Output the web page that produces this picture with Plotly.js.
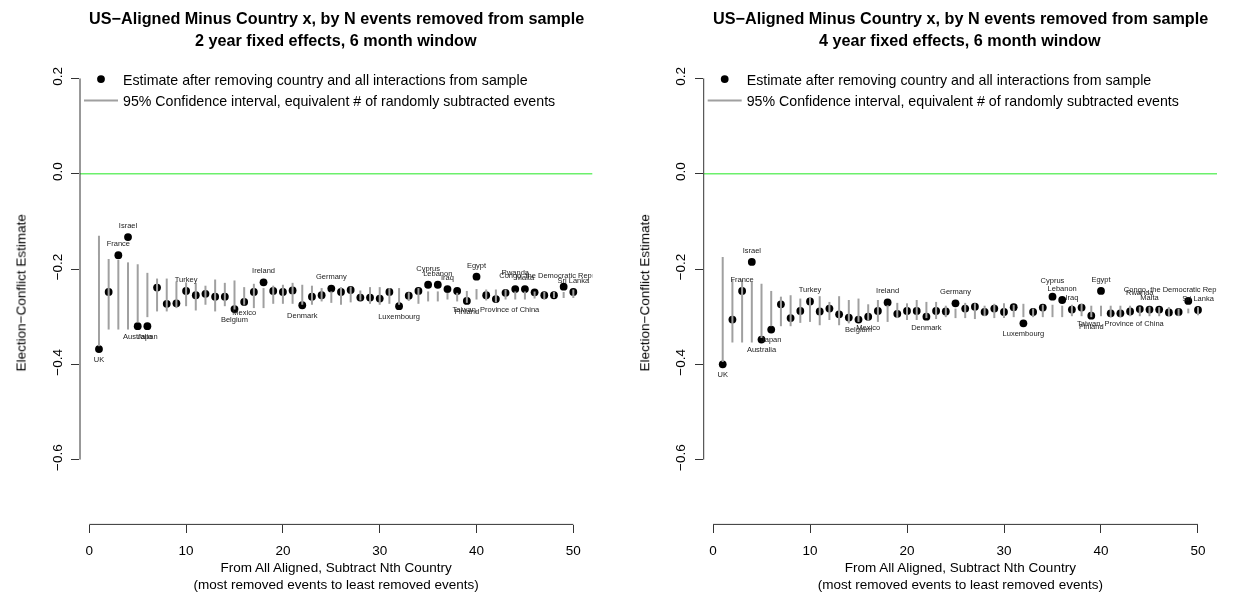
<!DOCTYPE html>
<html>
<head>
<meta charset="utf-8">
<script src="https://cdn.plot.ly/plotly-3.0.1.min.js"></script>
<style>
html,body{margin:0;padding:0;background:#fff;}
#chart{width:1233px;height:597px;}
#chart g.textpoint,
#chart g.infolayer,
#chart g.xaxislayer-above,
#chart g.yaxislayer-above,
#chart g.annotation{filter:grayscale(1);}
</style>
</head>
<body>
<div id="chart"></div>
<script>
// ---------- data ----------
const nIndex = [1,2,3,4,5,6,7,8,9,10,11,12,13,14,15,16,17,18,19,20,21,22,23,24,25,
  26,27,28,29,30,31,32,33,34,35,36,37,38,39,40,41,42,43,44,45,46,47,48,49,50];

// 2 year fixed effects, 6 month window
const est2 = [-0.368,-0.248,-0.171,-0.133,-0.320,-0.320,-0.239,-0.273,-0.272,-0.246,
  -0.255,-0.252,-0.258,-0.258,-0.284,-0.269,-0.248,-0.228,-0.246,-0.248,
  -0.245,-0.276,-0.258,-0.255,-0.241,-0.248,-0.244,-0.260,-0.260,-0.262,
  -0.248,-0.278,-0.256,-0.246,-0.233,-0.233,-0.242,-0.246,-0.267,-0.216,
  -0.255,-0.263,-0.250,-0.242,-0.242,-0.249,-0.255,-0.255,-0.237,-0.248];
const lo2 = [-0.362,-0.327,-0.327,-0.327,-0.312,-0.301,-0.289,-0.289,-0.282,-0.278,
  -0.287,-0.275,-0.289,-0.278,-0.285,-0.275,-0.282,-0.282,-0.273,-0.273,
  -0.273,-0.275,-0.275,-0.268,-0.271,-0.275,-0.270,-0.266,-0.273,-0.275,
  -0.273,-0.275,-0.267,-0.273,-0.268,-0.268,-0.264,-0.268,-0.271,-0.264,
  -0.266,-0.270,-0.264,-0.264,-0.264,-0.262,-0.264,-0.261,-0.261,-0.261];
const hi2 = [-0.130,-0.179,-0.180,-0.186,-0.190,-0.208,-0.220,-0.220,-0.226,-0.228,
  -0.229,-0.235,-0.222,-0.229,-0.224,-0.238,-0.231,-0.240,-0.235,-0.233,
  -0.229,-0.233,-0.235,-0.240,-0.247,-0.238,-0.237,-0.245,-0.238,-0.238,
  -0.240,-0.240,-0.249,-0.240,-0.247,-0.247,-0.250,-0.250,-0.246,-0.242,
  -0.243,-0.243,-0.243,-0.247,-0.247,-0.247,-0.248,-0.248,-0.248,-0.243];

// 4 year fixed effects, 6 month window
const est4 = [-0.400,-0.306,-0.246,-0.185,-0.348,-0.327,-0.274,-0.303,-0.288,-0.268,
  -0.289,-0.283,-0.295,-0.302,-0.306,-0.300,-0.288,-0.270,-0.294,-0.288,
  -0.288,-0.300,-0.288,-0.289,-0.272,-0.283,-0.279,-0.290,-0.283,-0.290,
  -0.280,-0.314,-0.290,-0.281,-0.258,-0.265,-0.285,-0.281,-0.298,-0.246,
  -0.293,-0.293,-0.289,-0.284,-0.285,-0.285,-0.291,-0.290,-0.267,-0.286];
const lo4 = [-0.395,-0.354,-0.354,-0.354,-0.345,-0.320,-0.320,-0.320,-0.313,-0.311,
  -0.318,-0.307,-0.318,-0.314,-0.311,-0.307,-0.311,-0.311,-0.303,-0.307,
  -0.307,-0.303,-0.305,-0.301,-0.303,-0.303,-0.305,-0.299,-0.303,-0.303,
  -0.301,-0.301,-0.301,-0.301,-0.301,-0.301,-0.299,-0.299,-0.301,-0.299,
  -0.301,-0.301,-0.299,-0.299,-0.299,-0.299,-0.299,-0.299,-0.293,-0.297];
const hi4 = [-0.175,-0.222,-0.222,-0.227,-0.231,-0.246,-0.258,-0.255,-0.262,-0.259,
  -0.257,-0.269,-0.257,-0.265,-0.262,-0.274,-0.265,-0.276,-0.271,-0.272,
  -0.265,-0.269,-0.269,-0.277,-0.283,-0.271,-0.272,-0.277,-0.273,-0.272,
  -0.275,-0.273,-0.283,-0.275,-0.275,-0.277,-0.275,-0.273,-0.277,-0.277,
  -0.277,-0.277,-0.277,-0.279,-0.279,-0.280,-0.280,-0.283,-0.283,-0.280];

// labelled countries (index N, name, above=1 / below=-1)
const labelIdx = [1,3,4,5,6,10,15,16,18,22,25,32,35,36,37,39,40,42,44,45,49,50];
const labelText = ["UK","France","Israel","Australia","Japan","Turkey","Belgium","Mexico",
  "Ireland","Denmark","Germany","Luxembourg","Cyprus","Lebanon","Iraq","Finland","Egypt",
  "Taiwan, Province of China","Rwanda","Malta","Congo, the Democratic Republic of the","Sri Lanka"];
const labelSide = [-1,1,1,-1,-1,1,-1,-1,1,-1,1,-1,1,1,1,-1,1,-1,1,1,1,1];

const xTicks = [0,10,20,30,40,50];
const yTicks = [-0.6,-0.4,-0.2,0.0,0.2];

const titleLine1 = "US\u2212Aligned Minus Country x, by N events removed from sample";
const panelSub = ["2 year fixed effects, 6 month window","4 year fixed effects, 6 month window"];
const xTitle = "From All Aligned, Subtract Nth Country<br>(most removed events to least removed events)";
const yTitle = "Election\u2212Conflict Estimate";
const legEst = "Estimate after removing country and all interactions from sample";
const legCI = "95% Confidence interval, equivalent # of randomly subtracted events";

// ---------- geometry / style ----------
const W = 1233, H = 597;
const FONT = "Liberation Sans, Arial, Helvetica, sans-serif";
const BASE = 13.5;
const LEGFONT = 14.2;
const xRange = [-0.96, 51.96];
const yRange = [-0.736, 0.236];
const plotTop = 61.3, plotBot = 524.4;
const panels = [{l: 80, r: 592.3}, {l: 703.7, r: 1217}];
const yDom = [1 - plotBot / H, 1 - plotTop / H];
const unitsPerPx = (yRange[1] - yRange[0]) / (plotBot - plotTop);
const labelGapPx = 11, labelGapWide = 16;
const wideLabels = ["Cyprus", "Rwanda"];
const ciColor = "#a0a0a0";

function segs(lo, hi) {
  const xs = [], ys = [];
  nIndex.forEach((n, i) => { xs.push(n, n, null); ys.push(lo[i], hi[i], null); });
  return {xs, ys};
}

const sets = [{est: est2, lo: lo2, hi: hi2}, {est: est4, lo: lo4, hi: hi4}];
const traces = [];
const shapes = [];
const annotations = [];
const layout = {
  width: W, height: H,
  margin: {l: 0, r: 0, t: 0, b: 0},
  paper_bgcolor: "#fff", plot_bgcolor: "#fff",
  font: {family: FONT, size: BASE, color: "#000"},
  showlegend: true,
  hovermode: false
};

sets.forEach((s, p) => {
  const xa = p === 0 ? "x" : "x2";
  const ya = p === 0 ? "y" : "y2";
  const xKey = p === 0 ? "xaxis" : "xaxis2";
  const yKey = p === 0 ? "yaxis" : "yaxis2";
  const leg = p === 0 ? "legend" : "legend2";
  const dom = [panels[p].l / W, panels[p].r / W];

  traces.push({
    type: "scatter", mode: "markers", x: nIndex, y: s.est, xaxis: xa, yaxis: ya,
    marker: {color: "#000", size: 7.8}, name: legEst, legend: leg, cliponaxis: false
  });
  const sg = segs(s.lo, s.hi);
  traces.push({
    type: "scatter", mode: "lines", x: sg.xs, y: sg.ys, xaxis: xa, yaxis: ya,
    line: {color: ciColor, width: 2}, name: legCI, legend: leg, connectgaps: false
  });
  traces.push({
    type: "scatter", mode: "text", xaxis: xa, yaxis: ya, showlegend: false,
    x: labelIdx,
    y: labelIdx.map((n, k) => s.est[n - 1] + labelSide[k] * unitsPerPx *
        (wideLabels.includes(labelText[k]) ? labelGapWide : labelGapPx)),
    text: labelText, textposition: "middle center", cliponaxis: true,
    textfont: {family: FONT, size: 7.5, color: "#222"}
  });

  layout[xKey] = {
    domain: dom, range: xRange, anchor: ya, tickvals: xTicks, ticktext: xTicks.map(String),
    ticks: "outside", ticklen: 8, tickwidth: 1, tickcolor: "#333",
    showline: false, showgrid: false, zeroline: false,
    tickfont: {family: FONT, size: BASE, color: "#000"}, ticklabelstandoff: 5,
    title: {text: xTitle, font: {family: FONT, size: BASE, color: "#000"}, standoff: 5}
  };
  layout[yKey] = {
    domain: yDom, range: yRange, anchor: xa, tickvals: yTicks, tickformat: ".1f",
    tickangle: -90, ticks: "outside", ticklen: 8, tickwidth: 1, tickcolor: "#333",
    showline: false, showgrid: false, zeroline: false,
    tickfont: {family: FONT, size: BASE, color: "#000"}, ticklabelstandoff: 4,
    title: {text: yTitle, font: {family: FONT, size: BASE, color: "#000"}, standoff: 20}
  };
  layout[leg] = {
    x: dom[0] - 1 / W, y: yDom[1] - 2 / H, xanchor: "left", yanchor: "top",
    bgcolor: "rgba(0,0,0,0)", borderwidth: 0, itemwidth: 34,
    font: {family: FONT, size: LEGFONT, color: "#000"}, tracegroupgap: 0
  };

  // axis lines spanning only the tick range
  shapes.push({type: "line", xref: xa, yref: "paper", x0: xTicks[0], x1: xTicks[xTicks.length - 1],
    y0: yDom[0], y1: yDom[0], line: {color: "#333", width: 1}});
  shapes.push({type: "line", xref: "paper", yref: ya, x0: dom[0], x1: dom[0],
    y0: yTicks[0], y1: yTicks[yTicks.length - 1], line: {color: "#333", width: 1}});
  // zero reference line
  shapes.push({type: "line", xref: "paper", yref: ya, x0: dom[0], x1: dom[1], y0: 0, y1: 0,
    line: {color: "#6cf06c", width: 1.5}, layer: "below"});

  const cx = (dom[0] + dom[1]) / 2;
  annotations.push({xref: "paper", yref: "paper", x: cx, y: 1 - 18 / H, xanchor: "center", yanchor: "middle",
    text: "<b>" + titleLine1 + "</b>", showarrow: false, font: {family: FONT, size: 16.2, color: "#000"}});
  annotations.push({xref: "paper", yref: "paper", x: cx, y: 1 - 40 / H, xanchor: "center", yanchor: "middle",
    text: "<b>" + panelSub[p] + "</b>", showarrow: false, font: {family: FONT, size: 16.2, color: "#000"}});
});

layout.shapes = shapes;
layout.annotations = annotations;

Plotly.newPlot("chart", traces, layout, {staticPlot: true, displayModeBar: false});
</script>
</body>
</html>
